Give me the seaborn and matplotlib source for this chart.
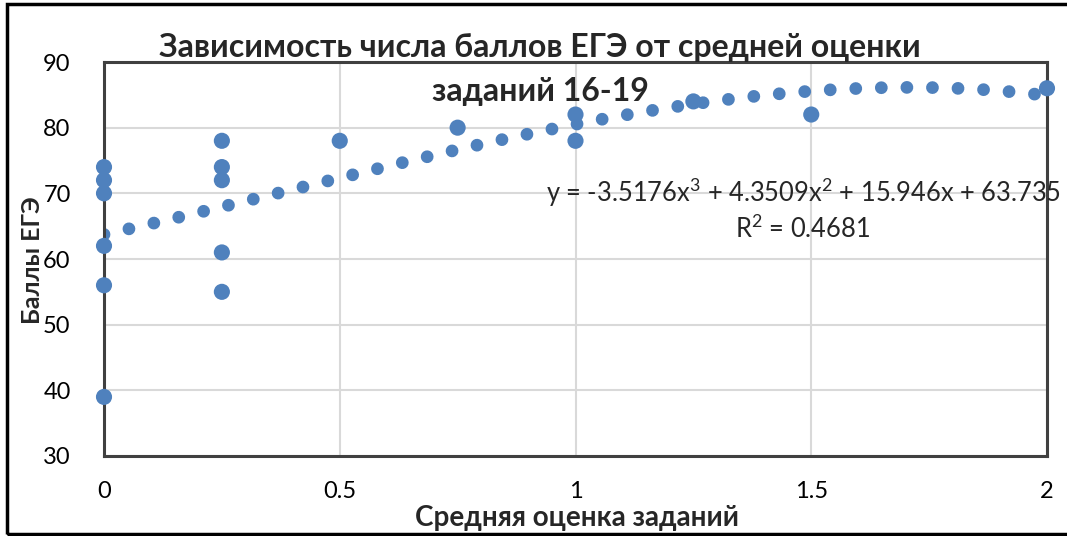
import numpy as np
import pandas as pd
import matplotlib
matplotlib.use("Agg")
import matplotlib.pyplot as plt
import seaborn as sns
from matplotlib.patches import Rectangle

# ---- data ----
x_vals = [0, 0, 0, 0, 0, 0,
          0.25, 0.25, 0.25, 0.25, 0.25,
          0.5, 0.75, 1, 1, 1.25, 1.5, 2]
y_vals = [74, 72, 70, 62, 56, 39,
          78, 74, 72, 61, 55,
          78, 80, 82, 78, 84, 82, 86]

# trendline coefficients as printed on the chart (x^3, x^2, x, 1)
trend_coefs = [-3.5176, 4.3509, 15.946, 63.735]
r_squared = 0.4681

x_ticks = [0, 0.5, 1, 1.5, 2]
y_ticks = [30, 40, 50, 60, 70, 80, 90]

title_line1 = "Зависимость числа баллов ЕГЭ от средней оценки"
title_line2 = "заданий 16-19"
x_label = "Средняя оценка заданий"
y_label = "Баллы ЕГЭ"
eq_line1 = "y = -3.5176x$^3$ + 4.3509x$^2$ + 15.946x + 63.735"
eq_line2 = "R$^2$ = 0.4681"

sns.set_theme(style="white")
FONT = ["Lato", "DejaVu Sans"]
plt.rcParams["font.family"] = FONT
plt.rcParams["mathtext.fontset"] = "custom"
plt.rcParams["mathtext.rm"] = "Lato"

BLUE = "#4F81BD"

df = pd.DataFrame({"x": x_vals, "y": y_vals})
tx = np.linspace(0, 2, 400)
ty = np.polyval(trend_coefs, tx)
trend = pd.DataFrame({"x": tx, "y": ty})

W, H = 1067, 536
fig = plt.figure(figsize=(W / 100, H / 100), dpi=100)
ax = fig.add_axes([104 / W, 1 - 456 / H, (1047 - 104) / W, (456 - 62) / H])

sns.lineplot(data=trend, x="x", y="y", ax=ax, color=BLUE, lw=9.2,
             linestyle=(0, (0.001, 2.0)), dash_capstyle="round",
             sort=False, estimator=None, zorder=2)
sns.scatterplot(data=df, x="x", y="y", ax=ax, color=BLUE, s=135,
                edgecolor="none", zorder=3, clip_on=False)

ax.set_xlim(0, 2)
ax.set_ylim(30, 90)
ax.set_xticks(x_ticks)
ax.set_xticklabels([f"{t:g}" for t in x_ticks])
ax.set_yticks(y_ticks)
ax.grid(True, color="#D9D9D9", lw=1.5)
ax.set_axisbelow(True)
for sp in ax.spines.values():
    sp.set_visible(True)
    sp.set_color("#404040")
    sp.set_linewidth(2.2)
ax.tick_params(axis="both", length=0, labelsize=17, colors="black")
ax.tick_params(axis="x", pad=18)
ax.tick_params(axis="y", pad=24)
ax.set_xlabel("")
ax.set_ylabel("")

fig.text(540 / W, 1 - 48 / H, title_line1, ha="center", va="center",
         fontsize=23, fontweight="bold")
fig.text(540 / W, 1 - 92 / H, title_line2, ha="center", va="center",
         fontsize=23, fontweight="bold")
fig.text(577 / W, 1 - 518 / H, x_label, ha="center", va="center",
         fontsize=20, fontweight="bold")
fig.text(32 / W, 1 - 260 / H, y_label, ha="center", va="center",
         rotation=90, fontsize=18, fontweight="bold")
fig.text(803 / W, 1 - 192 / H, eq_line1, ha="center", va="center", fontsize=18.4)
fig.text(803 / W, 1 - 229 / H, eq_line2, ha="center", va="center", fontsize=18.4)

# outer chart border
fig.patches.append(Rectangle((7 / W, 2 / H), 1.1, 530 / H,
                             transform=fig.transFigure, fill=False,
                             edgecolor="black", lw=2.5))

fig.savefig("out.png", dpi=100)
